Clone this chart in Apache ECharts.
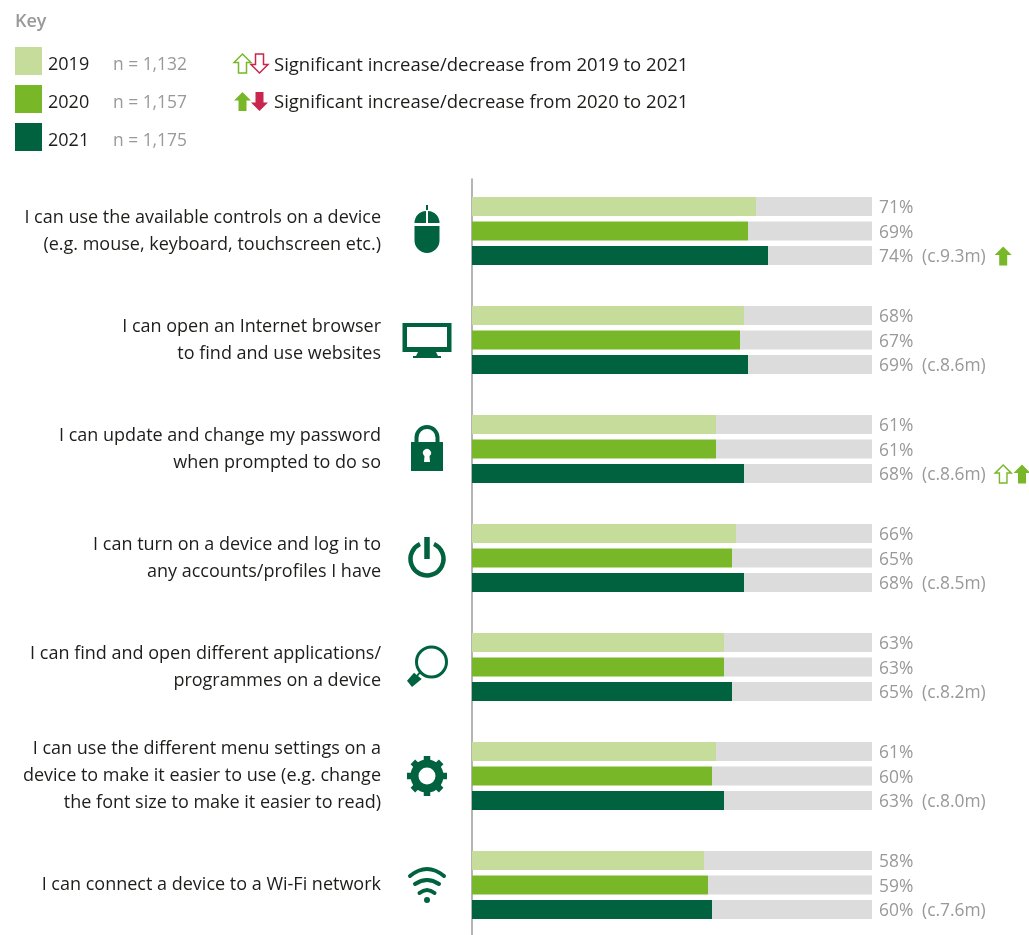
<!DOCTYPE html>
<html><head><meta charset="utf-8">
<style>html,body{margin:0;padding:0;background:#fff;overflow:hidden;width:1029px;height:935px}#c{width:1029px;height:945px}</style>
<script src="https://cdn.jsdelivr.net/npm/echarts@6/dist/echarts.min.js"></script>
</head><body><div id="c"></div>
<script>
const categories = [
 'I can use the available controls on a device\n(e.g. mouse, keyboard, touchscreen etc.)',
 'I can open an Internet browser\nto find and use websites',
 'I can update and change my password\nwhen prompted to do so',
 'I can turn on a device and log in to\nany accounts/profiles I have',
 'I can find and open different applications/\nprogrammes on a device',
 'I can use the different menu settings on a\ndevice to make it easier to use (e.g. change\nthe font size to make it easier to read)',
 'I can connect a device to a Wi-Fi network'
];
const years = ['2019','2020','2021'];
const sampleSizes = ['n = 1,132','n = 1,157','n = 1,175'];
const values2019 = [71,68,61,66,63,61,58];
const values2020 = [69,67,61,65,63,60,59];
const values2021 = [74,69,68,68,65,63,60];
const population2021 = ['c.9.3m','c.8.6m','c.8.6m','c.8.5m','c.8.2m','c.8.0m','c.7.6m'];
const upFrom2020 = [0,2];
const upFrom2019 = [2];

const FONT = '"Open Sans"';
const C = {light:'#c6dc9a', mid:'#78b828', dark:'#00623e', grey:'#dcdcdc', text:'#1d1d1b', muted:'#999999', red:'#c8264c'};
const colors = [C.light,C.mid,C.dark];
const FW = 400, FS = 18, FSM = 17.4;

const ARROW_UP = 'M0 -9.5 L8.5 -1 L4 -1 L4 9.5 L-4 9.5 L-4 -1 L-8.5 -1 Z';
const ARROW_DOWN = 'M0 9.5 L8.5 1 L4 1 L4 -9.5 L-4 -9.5 L-4 1 L-8.5 1 Z';

const valueSets = [values2019,values2020,values2021];
const series = [];
years.forEach((y,i)=>{
  const vals = valueSets[i];
  series.push({name:y,type:'bar',stack:'s'+y,barWidth:19,barGap:'29%',silent:true,
    itemStyle:{color:colors[i]},data:vals});
  series.push({name:'rest '+y,type:'bar',stack:'s'+y,barWidth:19,barGap:'29%',silent:true,
    itemStyle:{color:C.grey},
    data:vals.map(v=>100-v),
    label:{show:true,position:'right',distance:7,offset:[0,2],
      formatter:p=>{
        const v=vals[p.dataIndex];
        return i===2 ? `{v|${v}%}{c|(${population2021[p.dataIndex]})}` : `{v|${v}%}`;
      },
      rich:{v:{fontFamily:FONT,fontWeight:FW,fontSize:FSM,color:C.muted,width:43},
            c:{fontFamily:FONT,fontWeight:FW,fontSize:FSM,color:C.muted}}}
  });
});
const ARROW_X1 = 132.8, ARROW_X2 = 137.5;
series.push({name:'up from 2020',type:'scatter',clip:false,silent:true,symbol:'path://'+ARROW_UP,symbolSize:[17,19],symbolOffset:[0,25],
  itemStyle:{color:C.mid,opacity:1},
  data:upFrom2020.map(i=>[i===2?ARROW_X2:ARROW_X1,i])});
series.push({name:'up from 2019',type:'scatter',clip:false,silent:true,symbol:'path://'+ARROW_UP,symbolSize:[16,18],symbolOffset:[0,25],
  itemStyle:{color:'#fff',borderColor:C.mid,borderWidth:1.5,opacity:1},
  data:upFrom2019.map(i=>[ARROW_X1,i])});

const DARK = {fill:C.dark};
const line = w=>({fill:'none',stroke:C.dark,lineWidth:w,lineCap:'butt'});
const round = w=>({fill:'none',stroke:C.dark,lineWidth:w,lineCap:'round'});
let gearPath = 'M12.5 0 A12.5 12.5 0 1 1 -12.5 0 A12.5 12.5 0 1 1 12.5 0';
const gearTeeth = [];
for(let k=0;k<8;k++){
  const a=k*Math.PI/4, c=Math.cos(a), s=Math.sin(a);
  gearTeeth.push(`M${(14*c).toFixed(2)} ${(14*s).toFixed(2)} L${(20*c).toFixed(2)} ${(20*s).toFixed(2)}`);
}
const icons = [
 [427,231,[['M-1 -20 A11.5 12 0 0 0 -12.5 -8 L-1 -8 Z M1 -20 A11.5 12 0 0 1 12.5 -8 L1 -8 Z M-1 -26 L1 -26 L1 -21 L-1 -21 Z M-12.5 -5 L12.5 -5 L12.5 9.5 A12.5 12.5 0 0 1 -12.5 9.5 Z',DARK]]],
 [427,340,[['M-24.5 -17 L24.5 -17 L24.5 12 L-24.5 12 Z M-20 -13 L-20 7 L20 7 L20 -13 Z M-9 12 L9 12 L11 16 L14 16 L14 18 L-14 18 L-14 16 L-11 16 Z',DARK]]],
 [427,449,[['M-16 -7 L16 -7 L16 22 L-16 22 Z M-2.5 7 L-3 13 L3 13 L2.5 7 A4 4 0 1 0 -2.5 7 Z',DARK],
           ['M-12.5 -7 L-12.5 -11.5 A12.5 12.5 0 0 1 12.5 -11.5 L12.5 -7 L8.5 -7 L8.5 -11.5 A8.5 8.5 0 0 0 -8.5 -11.5 L-8.5 -7 Z',DARK]]],
 [427,558,[['M7 -14 A16.5 16.5 0 1 1 -7 -14',line(4.5)],['M0 -21 L0 1',line(5.5)]]],
 [427,667,[['M19.5 -5 A15 15 0 1 1 -10.5 -5 A15 15 0 1 1 19.5 -5',line(3)],
           ['M-20 13.7 L-13 5.7 L-5.3 12 L-15 20 Z',DARK],['M-10 9 L-6 4',line(2)]]],
 [427,776,[[gearPath,line(8)],[gearTeeth.join(' '),line(6.5)]]],
 [427,885,[['M-17 -9 Q0 -23 17 -9',round(4)],['M-12 -1 Q0 -9 12 -1',round(4)],['M-7.5 8 Q0 2 7.5 8',round(4)],
           ['M3 15 A3 3 0 1 1 -3 15 A3 3 0 1 1 3 15',DARK]]]
];
let shapeCount = 0;
function pathEl(d,x,y,style){
  const name = 'sketchPath'+(shapeCount++);
  echarts.graphic.registerShape(name, echarts.graphic.extendPath(d,{}));
  return {type:name,x,y,style,silent:true};
}
const graphic = [
 {type:'text',left:15,top:13,style:{text:'Key',fontFamily:FONT,fontWeight:600,fontSize:18,fill:C.muted}},
 {type:'text',left:274,top:56,style:{text:'Significant increase/decrease from 2019 to 2021',fontFamily:FONT,fontWeight:FW,fontSize:18.5,fill:C.text}},
 {type:'text',left:274,top:93,style:{text:'Significant increase/decrease from 2020 to 2021',fontFamily:FONT,fontWeight:FW,fontSize:18.5,fill:C.text}},
 pathEl(ARROW_UP,242.5,63.5,{fill:'#fff',stroke:C.mid,lineWidth:1.5}),
 pathEl(ARROW_DOWN,259.5,63.5,{fill:'#fff',stroke:C.red,lineWidth:1.5}),
 pathEl(ARROW_UP,242.5,101.5,{fill:C.mid}),
 pathEl(ARROW_DOWN,259.5,101.5,{fill:C.red})
];
icons.forEach(([x,y,parts])=>parts.forEach(([d,style])=>{
  graphic.push(pathEl(d,x,y,style));
}));

const chart = echarts.init(document.getElementById('c'),null,{renderer:'canvas'});
chart.setOption({
  animation:false,
  backgroundColor:'#fff',
  textStyle:{fontFamily:FONT},
  legend:{show:true,left:15,top:47,padding:0,orient:'vertical',icon:'rect',itemWidth:27,itemHeight:28,itemGap:10,
    data:years,selectedMode:false,
    formatter:n=>`{y|${n}}{n|${sampleSizes[years.indexOf(n)]}}`,
    textStyle:{rich:{
      y:{fontFamily:FONT,fontWeight:FW,fontSize:FS,color:C.text,width:65,lineHeight:20,padding:[8,0,0,1]},
      n:{fontFamily:FONT,fontWeight:FW,fontSize:FSM,color:C.muted,lineHeight:20,padding:[8,0,0,0]}}}},
  grid:[{left:472,top:176.5,width:400,height:763,containLabel:false},
        {left:472,top:179,width:400,height:766,containLabel:false}],
  xAxis:[{type:'value',min:0,max:100,show:false,gridIndex:0},
         {type:'value',min:0,max:100,show:false,gridIndex:1}],
  yAxis:[{type:'category',inverse:true,data:categories,gridIndex:0,
          axisLine:{show:false},axisTick:{show:false},
          axisLabel:{margin:91,align:'right',fontFamily:FONT,fontWeight:FW,fontSize:FS,lineHeight:27,color:C.text,interval:0,padding:[4,0,0,0]}},
         {type:'category',data:[''],gridIndex:1,
          axisLine:{show:true,onZero:false,lineStyle:{color:'#a3a3a3',width:1.6}},axisTick:{show:false},axisLabel:{show:false}}],
  series,
  graphic
});
</script></body></html>
